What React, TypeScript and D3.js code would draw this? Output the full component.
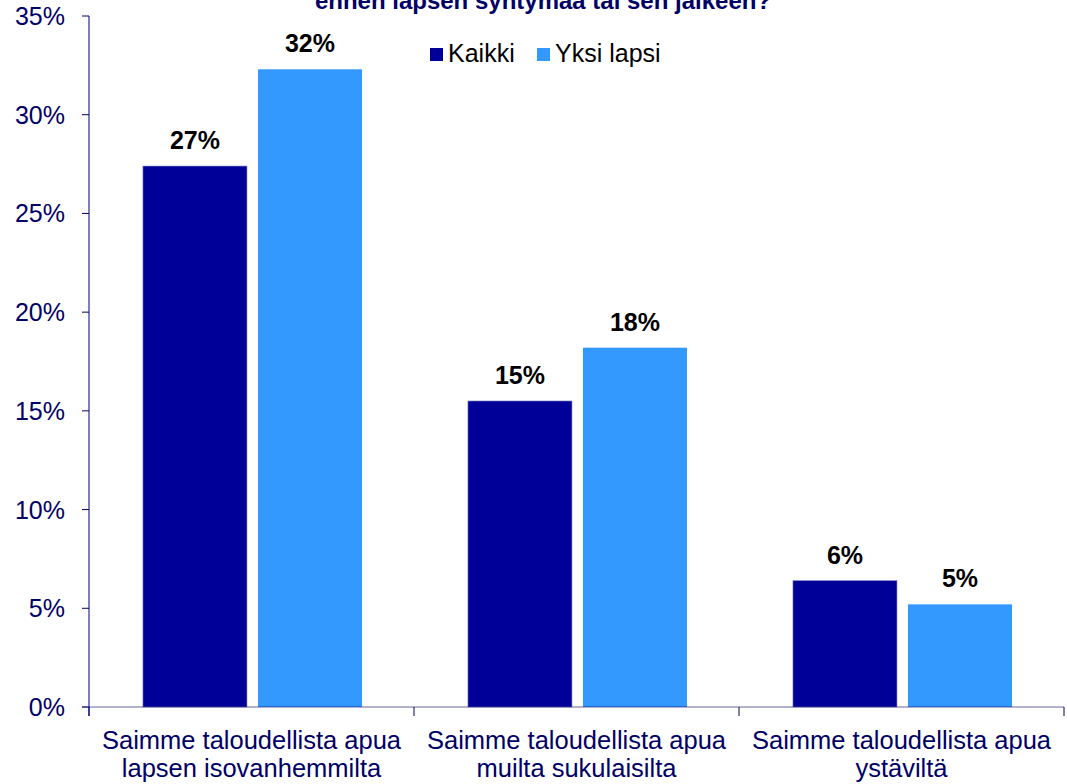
import * as React from "react";
import { scaleBand, scaleLinear, range } from "d3";

const categories = [
  ["Saimme taloudellista apua", "lapsen isovanhemmilta"],
  ["Saimme taloudellista apua", "muilta sukulaisilta"],
  ["Saimme taloudellista apua", "ystäviltä"],
];
const seriesNames = ["Kaikki", "Yksi lapsi"];
const kaikki = [27.4, 15.5, 6.4];
const yksiLapsi = [32.3, 18.2, 5.2];
const valueLabels = [
  ["27%", "15%", "6%"],
  ["32%", "18%", "5%"],
];
const yTicks = [0, 5, 10, 15, 20, 25, 30, 35];
const titleLine = "ennen lapsen syntymää tai sen jälkeen?";

const colors = ["#000099", "#3399ff"];
const navy = "#000066";
const font = "'Liberation Sans', Arial, sans-serif";

const width = 1067;
const height = 784;
const left = 89;
const right = 1064;
const top = 16;
const bottom = 707;

const App = () => {
  const series = [kaikki, yksiLapsi];

  const y = scaleLinear().domain([0, 35]).range([bottom, top]);
  const x0 = scaleBand<number>()
    .domain(range(categories.length))
    .range([left, right])
    .padding(0);
  const bw = x0.bandwidth();
  const x1 = scaleBand<number>()
    .domain(range(seriesNames.length))
    .range([bw * 0.166, bw * 0.84])
    .paddingInner(0.0957)
    .paddingOuter(0);

  return (
    <svg
      width={width}
      height={height}
      style={{ position: "absolute", left: 0, top: 0, background: "#fff" }}
      fontFamily={font}
    >
      <text
        x={543}
        y={9}
        textAnchor="middle"
        fontSize={24}
        fontWeight="bold"
        fill={navy}
      >
        {titleLine}
      </text>

      {/* bars */}
      {series.map((vals, si) =>
        vals.map((v, ci) => {
          const bx = (x0(ci) as number) + (x1(si) as number);
          return (
            <g key={`${si}-${ci}`}>
              <rect
                x={bx}
                y={y(v)}
                width={x1.bandwidth()}
                height={bottom - y(v)}
                fill={colors[si]}
                stroke={si === 0 ? "#8080c0" : "none"}
                strokeWidth={0.6}
              />
              <text
                x={bx + x1.bandwidth() / 2}
                y={y(v) - 17}
                textAnchor="middle"
                fontSize={25}
                fontWeight="bold"
                fill="#000"
              >
                {valueLabels[si][ci]}
              </text>
            </g>
          );
        }),
      )}

      {/* y axis */}
      <line x1={left} x2={left} y1={top} y2={bottom + 9} stroke={navy} strokeWidth={1} />
      {yTicks.map((t) => (
        <g key={t}>
          <line x1={left - 7} x2={left} y1={y(t)} y2={y(t)} stroke={navy} />
          <text
            x={65}
            y={y(t) + 9}
            textAnchor="end"
            fontSize={25}
            fill={navy}
          >
            {t}%
          </text>
        </g>
      ))}

      {/* x axis */}
      <line x1={left - 7} x2={right} y1={bottom} y2={bottom} stroke={navy} strokeOpacity={0.6} />
      {range(categories.length + 1).map((i) => {
        const tx = i < categories.length ? (x0(i) as number) : right;
        return (
          <line key={i} x1={tx} x2={tx} y1={bottom} y2={bottom + 9} stroke={navy} />
        );
      })}
      {categories.map((lines, ci) =>
        lines.map((l, li) => (
          <text
            key={`${ci}-${li}`}
            x={(x0(ci) as number) + bw / 2}
            y={749 + li * 28}
            textAnchor="middle"
            fontSize={25.5}
            fill={navy}
          >
            {l}
          </text>
        )),
      )}

      {/* legend */}
      {seriesNames.map((name, i) => {
        const lx = [430, 537][i];
        return (
          <g key={name}>
            <rect x={lx} y={48} width={13} height={13} fill={colors[i]} />
            <text x={lx + 18} y={62} fontSize={25} fill="#000">
              {name}
            </text>
          </g>
        );
      })}
    </svg>
  );
};

export default App;
